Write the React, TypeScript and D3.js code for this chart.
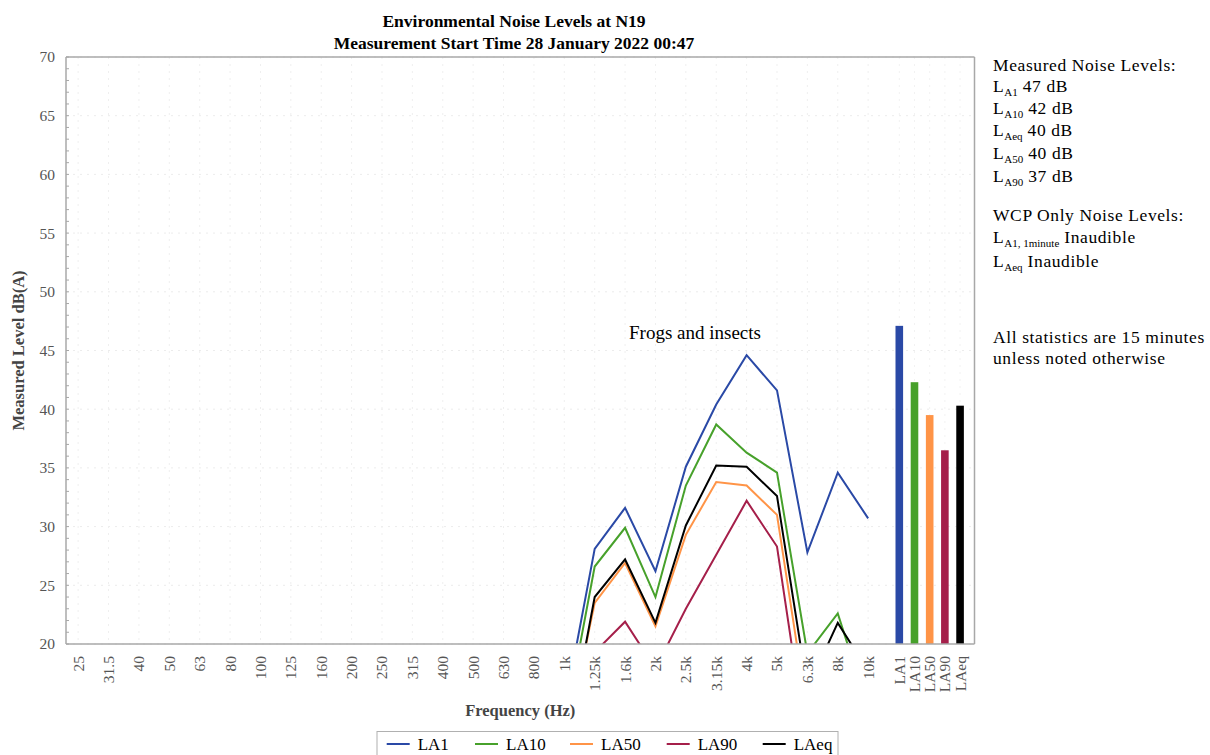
import React from "react";
import * as d3 from "d3";

const frequencies = ["25","31.5","40","50","63","80","100","125","160","200","250","315","400","500","630","800","1k","1.25k","1.6k","2k","2.5k","3.15k","4k","5k","6.3k","8k","10k"];
// values per band (null = not shown, below chart floor with no visible trace)
const la1 = [null,null,null,null,null,null,null,null,null,null,null,null,null,null,null,null,14.4,28.1,31.6,26.2,35.1,40.4,44.6,41.6,27.8,34.6,30.7];
const la10 = [null,null,null,null,null,null,null,null,null,null,null,null,null,null,null,null,12.8,26.6,29.9,24.0,33.5,38.7,36.3,34.6,19.2,22.6,14.5];
const la50 = [null,null,null,null,null,null,null,null,null,null,null,null,null,null,null,null,11.0,23.5,26.9,21.5,29.3,33.8,33.5,31.0,14.1,15.0,12.0];
const la90 = [null,null,null,null,null,null,null,null,null,null,null,null,null,null,null,null,8.0,19.3,21.9,17.9,23.0,27.6,32.2,28.3,11.0,10.0,9.0];
const laeq = [null,null,null,null,null,null,null,null,null,null,null,null,null,null,null,null,10.2,24.0,27.2,21.8,30.1,35.2,35.1,32.6,16.2,21.8,17.7];

const seriesNames = ["LA1","LA10","LA50","LA90","LAeq"];
const seriesColors = ["#2a49a6","#47a12b","#ff9447","#a51f4a","#000000"];
const seriesValues = [la1, la10, la50, la90, laeq];

const overallNames = ["LA1","LA10","LA50","LA90","LAeq"];
const overallValues = [47.1, 42.3, 39.5, 36.5, 40.3];

const yTicks = [20,25,30,35,40,45,50,55,60,65,70];

const FONT = "'Liberation Serif', 'Times New Roman', serif";

export default function App() {
  const W = 1210, H = 755;
  const left = 66, right = 974.5, top = 57, bottom = 644;
  const x = d3.scaleLinear().domain([-0.8, 59]).range([left, right]);
  const y = d3.scaleLinear().domain([20, 70]).range([bottom, top]);
  const freqPos = (i: number) => x(2 * i);
  const barPos = (j: number) => x(54.05 + j);
  const barW = x(0.5) - x(0);

  const line = d3.line<number | null>()
    .defined((d) => d != null)
    .x((_, i) => freqPos(i))
    .y((d) => y(d as number));

  const minor = d3.range(20, 71, 1);
  const legendX = [386.7, 475, 570, 666.7, 762.7];

  const sub = (s: string) => (
    <tspan fontSize={11} dy={4} letterSpacing={0}>{s}</tspan>
  );

  const panelX = 993;
  const panelLines: { base: string; subscript?: string; rest?: string; yb: number }[] = [
    { base: "Measured Noise Levels:", yb: 71 },
    { base: "L", subscript: "A1", rest: " 47 dB", yb: 92 },
    { base: "L", subscript: "A10", rest: " 42 dB", yb: 114 },
    { base: "L", subscript: "Aeq", rest: " 40 dB", yb: 136 },
    { base: "L", subscript: "A50", rest: " 40 dB", yb: 159 },
    { base: "L", subscript: "A90", rest: " 37 dB", yb: 182 },
    { base: "WCP Only Noise Levels:", yb: 221 },
    { base: "L", subscript: "A1, 1minute", rest: " Inaudible", yb: 243 },
    { base: "L", subscript: "Aeq", rest: " Inaudible", yb: 267 },
    { base: "All statistics are 15 minutes", yb: 343 },
    { base: "unless noted otherwise", yb: 364 },
  ];

  return (
    <svg width={W} height={H} style={{ position: "absolute", left: 0, top: 0, background: "#fff" }} fontFamily={FONT}>
      <defs>
        <clipPath id="plotclip">
          <rect x={left} y={top} width={right - left} height={bottom - top} />
        </clipPath>
      </defs>
      <rect x={0} y={0} width={W} height={H} fill="#fff" />
      {/* title */}
      <text x={514} y={27} textAnchor="middle" fontWeight="bold" fontSize={17.5} fill="#000">Environmental Noise Levels at N19</text>
      <text x={514} y={49} textAnchor="middle" fontWeight="bold" fontSize={17.5} fill="#000">Measurement Start Time 28 January 2022 00:47</text>

      {/* grid */}
      {yTicks.map((t) => (
        <line key={"hg" + t} x1={left} x2={right} y1={y(t)} y2={y(t)} stroke="#ececec" strokeWidth={1} strokeDasharray="2,5" />
      ))}
      {frequencies.map((f, i) => (
        <line key={"vg" + f} x1={freqPos(i)} x2={freqPos(i)} y1={top} y2={bottom} stroke="#efefef" strokeWidth={1} strokeDasharray="2,5" />
      ))}
      {overallNames.map((n, j) => (
        <line key={"vgb" + n} x1={barPos(j)} x2={barPos(j)} y1={top} y2={bottom} stroke="#f2f2f2" strokeWidth={1} strokeDasharray="2,5" />
      ))}

      {/* lines */}
      <g clipPath="url(#plotclip)">
        {seriesValues.map((vals, k) => (
          <path key={seriesNames[k]} d={line(vals) || ""} fill="none" stroke={seriesColors[k]} strokeWidth={2} strokeLinejoin="miter" />
        ))}
      </g>

      {/* bars */}
      {overallValues.map((v, j) => (
        <rect key={overallNames[j]} x={barPos(j) - barW / 2} y={y(v)} width={barW} height={y(20) - y(v)} fill={seriesColors[j]} />
      ))}

      {/* frame */}
      <line x1={left} x2={right} y1={top} y2={top} stroke="#a8a8a8" strokeWidth={1.5} />
      <line x1={right} x2={right} y1={top} y2={bottom} stroke="#a8a8a8" strokeWidth={1.5} />
      <line x1={left} x2={right} y1={bottom} y2={bottom} stroke="#a8a8a8" strokeWidth={1.5} />
      <line x1={left} x2={left} y1={top} y2={bottom} stroke="#a8a8a8" strokeWidth={1.5} />
      {minor.map((m) => (
        <line key={"mt" + m} x1={left} x2={left + 3} y1={y(m)} y2={y(m)} stroke="#a8a8a8" strokeWidth={1} />
      ))}

      {/* y tick labels */}
      {yTicks.map((t) => (
        <text key={"yl" + t} x={55} y={y(t)} dy="0.35em" textAnchor="end" fontSize={15.5} fill="#555">{t}</text>
      ))}

      {/* x tick labels */}
      {frequencies.map((f, i) => (
        <text key={"xl" + f} transform={`translate(${freqPos(i)},656) rotate(-90)`} textAnchor="end" dy="0.35em" fontSize={15.5} fill="#555">{f}</text>
      ))}
      {overallNames.map((n, j) => (
        <text key={"bl" + n} transform={`translate(${barPos(j)},656) rotate(-90)`} textAnchor="end" dy="0.35em" fontSize={15.5} fill="#555">{n}</text>
      ))}

      {/* axis titles */}
      <text transform={`translate(24,${(top + bottom) / 2}) rotate(-90)`} textAnchor="middle" fontWeight="bold" fontSize={16.5} fill="#444">Measured Level dB(A)</text>
      <text x={(left + right) / 2} y={716} textAnchor="middle" fontWeight="bold" fontSize={16.5} fill="#444">Frequency (Hz)</text>

      {/* annotation */}
      <text x={695} y={339} textAnchor="middle" fontSize={19} fill="#000">Frogs and insects</text>

      {/* legend */}
      <rect x={377} y={731.5} width={461} height={30} fill="#fff" stroke="#b0b0b0" strokeWidth={1} />
      {seriesNames.map((n, k) => (
        <g key={"lg" + n}>
          <line x1={legendX[k]} x2={legendX[k] + 23} y1={744} y2={744} stroke={seriesColors[k]} strokeWidth={2} />
          <text x={legendX[k] + 31} y={750} fontSize={17} fill="#000">{n}</text>
        </g>
      ))}

      {/* right panel */}
      {panelLines.map((p, i) => (
        <text key={"pl" + i} x={panelX} y={p.yb} fontSize={17.5} letterSpacing={0.6} fill="#000">
          {p.base}
          {p.subscript ? sub(p.subscript) : null}
          {p.rest ? <tspan dy={-4}>{p.rest}</tspan> : null}
        </text>
      ))}
    </svg>
  );
}
